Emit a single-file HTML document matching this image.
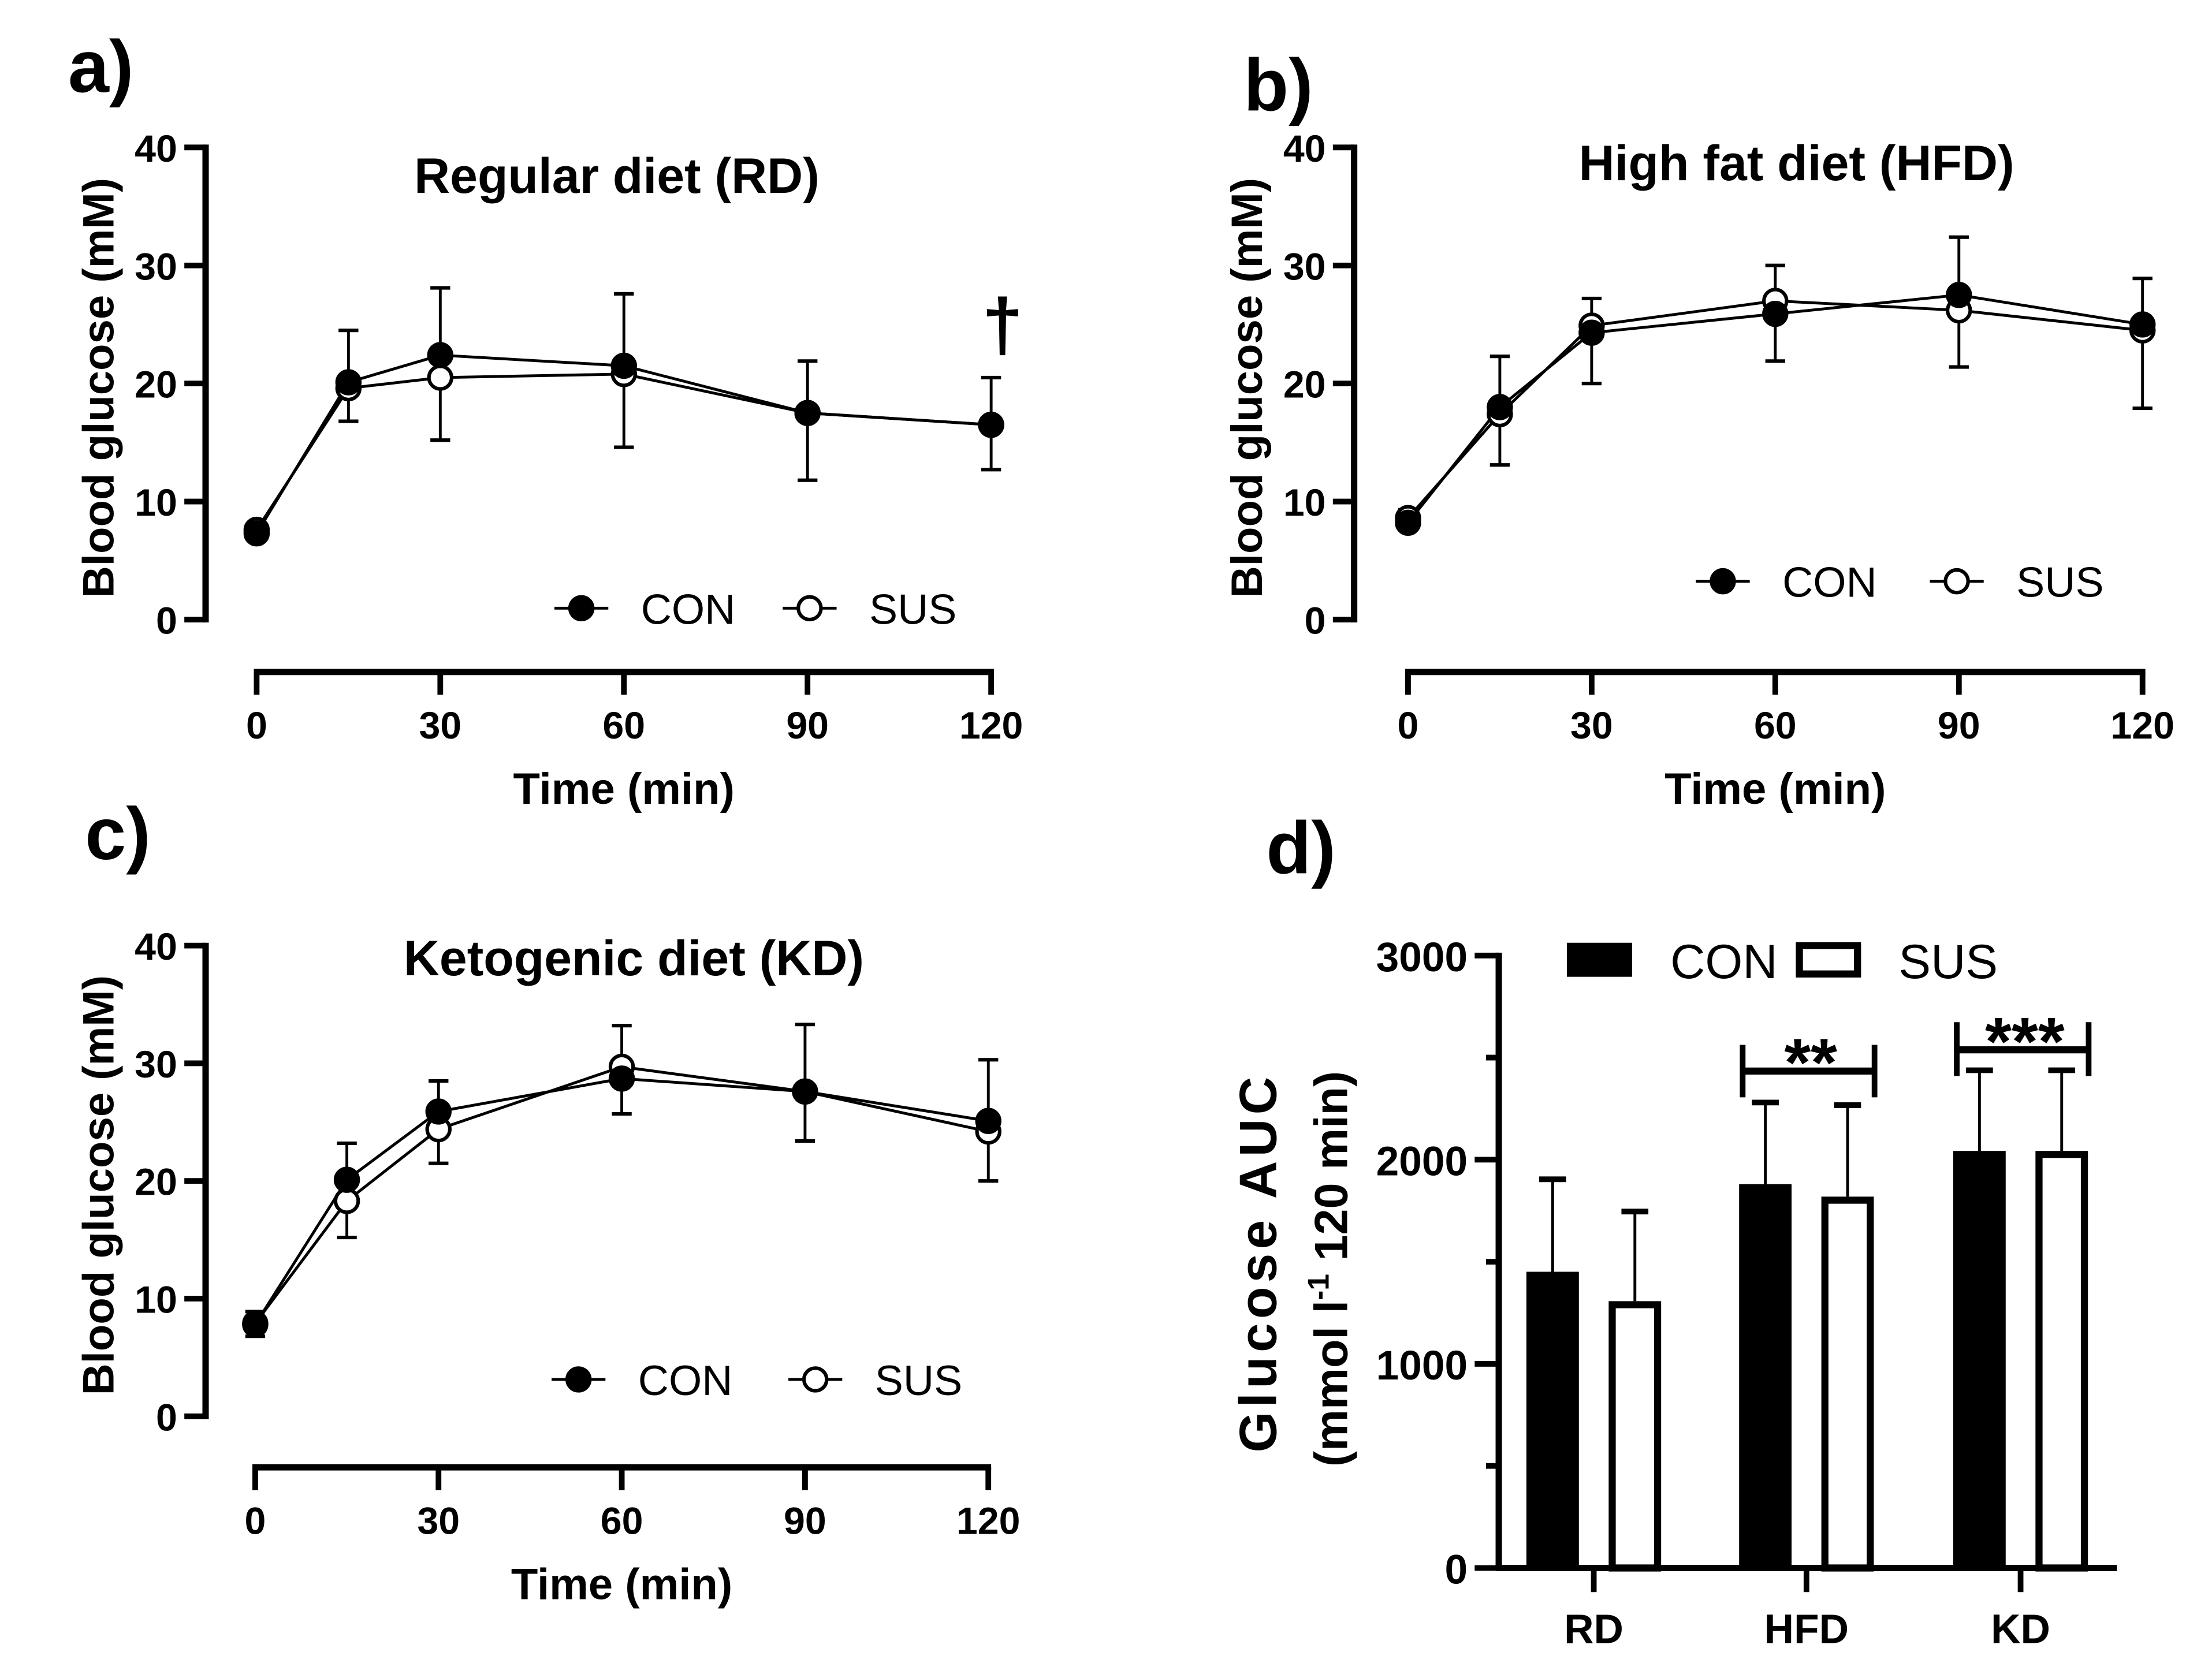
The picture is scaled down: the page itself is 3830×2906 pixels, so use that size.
<!DOCTYPE html>
<html><head><meta charset="utf-8"><style>
html,body{margin:0;padding:0;background:#fff;}
svg{display:block;}
text{font-family:"Liberation Sans",Arial,sans-serif;fill:#000;}
.b{font-weight:bold;}
</style></head><body>
<svg id="fig" width="3830" height="2906" viewBox="0 0 1560 1183.6" preserveAspectRatio="none" xmlns="http://www.w3.org/2000/svg">
<rect width="1560" height="1183.6" fill="#fff"/>
</svg>
<script>
// ---- data ----
const times = [0, 15, 30, 60, 90, 120];
const xTicks = [0, 30, 60, 90, 120];
const yTicksLine = [0, 10, 20, 30, 40];
const rdCon = [7.3, 20.1, 22.4, 21.5, 17.5, 16.5];
const rdSus = [7.6, 19.6, 20.5, 20.8, 17.5, 16.5];
const rdConErr = [0.4, 4.4, 5.7, 6.1, 4.4, 4.0];
const rdSusErr = [0.3, 2.8, 5.3, 6.2, 5.7, 3.8];
const hfdCon = [8.2, 18.0, 24.3, 25.9, 27.5, 25.0];
const hfdSus = [8.6, 17.4, 24.9, 27.0, 26.2, 24.5];
const hfdConErr = [0.3, 4.3, 4.3, 4.0, 4.9, 3.9];
const hfdSusErr = [0.7, 4.3, 2.3, 3.0, 4.8, 6.6];
const kdCon = [7.8, 20.1, 25.9, 28.7, 27.6, 25.1];
const kdSus = [7.9, 18.3, 24.4, 29.7, 27.6, 24.2];
const kdConErr = [1.0, 3.1, 2.6, 3.0, 5.7, 5.2];
const kdSusErr = [1.0, 3.1, 2.9, 3.5, 4.2, 4.2];
const aucCats = ["RD", "HFD", "KD"];
const aucCon = [1451, 1880, 2043];
const aucSus = [1307, 1819, 2043];
const aucConErr = [453, 400, 395];
const aucSusErr = [439, 448, 395];
const aucTicks = [0, 1000, 2000, 3000];
const aucMinorTicks = [500, 1500, 2500];

const NS = "http://www.w3.org/2000/svg";
const svg = document.getElementById("fig");
function mk(tag, attrs, parent, txt) {
  const e = document.createElementNS(NS, tag);
  for (const k in attrs) e.setAttribute(k, attrs[k]);
  if (txt !== undefined) e.textContent = txt;
  (parent || svg).appendChild(e);
  return e;
}
function line(x1,y1,x2,y2,w,p){return mk("line",{x1,y1,x2,y2,stroke:"#000","stroke-width":w},p);}

function linePanel(cfg) {
  const g = mk("g", {});
  
  
  const X = t => cfg.x0 + (t - 0) / 120 * (cfg.x120 - cfg.x0);
  const Y = v => cfg.y0 + v / 40 * (cfg.y40 - cfg.y0);
  const pl = mk("text", {x: cfg.lx, y: cfg.ly, "font-size": 52, class: "b"}, g, cfg.letter);
  
  
  const ya = mk("g", {}, g);
  
  
  line(cfg.ax, Y(40) - 2, cfg.ax, Y(0) + 2, 4.5, ya);
  yTicksLine.forEach(v => {
    line(cfg.ax - 15, Y(v), cfg.ax, Y(v), 4, ya);
    const t = mk("text", {x: cfg.ax - 20, y: Y(v) + 10, "font-size": 27, class: "b", "text-anchor": "end"}, ya, String(v));
    
    
  });
  const yt = mk("text", {transform: `translate(${cfg.ax - 65},${(Y(0) + Y(40)) / 2 + 3}) rotate(-90)`, "font-size": 31, class: "b", "text-anchor": "middle"}, g, "Blood glucose (mM)");
  
  
  const xa = mk("g", {}, g);
  
  
  line(X(0) - 2, cfg.xay, X(120) + 2, cfg.xay, 4.5, xa);
  xTicks.forEach(t => {
    line(X(t), cfg.xay, X(t), cfg.xay + 16, 4, xa);
    const tl = mk("text", {x: X(t), y: cfg.xay + 47, "font-size": 27, class: "b", "text-anchor": "middle"}, xa, String(t));
    
    
  });
  const xt = mk("text", {x: (X(0) + X(120)) / 2, y: cfg.xay + 93, "font-size": 31, class: "b", "text-anchor": "middle"}, g, "Time (min)");
  
  
  const tt = mk("text", {x: cfg.tx, y: cfg.ty, "font-size": 35, class: "b", "text-anchor": "middle"}, g, cfg.title);
  
  
  const eb = mk("g", {}, g);
  
  
  times.forEach((t, i) => {
    const conUp = cfg.con[i] >= cfg.sus[i];
    [[cfg.con[i], cfg.conErr[i], conUp], [cfg.sus[i], cfg.susErr[i], !conUp]].forEach(([v, e, up]) => {
      const ve = up ? v + e : v - e;
      line(X(t), Y(v), X(t), Y(ve), 2, eb);
      line(X(t) - 7, Y(ve), X(t) + 7, Y(ve), 2.5, eb);
    });
  });
  [[cfg.sus, "#fff", "sus"], [cfg.con, "#000", "con"]].forEach(([vals, fill, nm]) => {
    const s = mk("g", {}, g);
    
    
    mk("polyline", {points: times.map((t, i) => X(t) + "," + Y(vals[i])).join(" "), fill: "none", stroke: "#000", "stroke-width": 2}, s);
  });
  [[cfg.sus, "#fff", "sus"], [cfg.con, "#000", "con"]].forEach(([vals, fill, nm]) => {
    times.forEach((t, i) => {
      const c = mk("circle", {cx: X(t), cy: Y(vals[i]), r: 8, fill: fill, stroke: "#000", "stroke-width": 2.5}, g);
      
      
    });
  });
  const lg = mk("g", {}, g);
  
  
  [[cfg.legCon, "#000", "CON"], [cfg.legSus, "#fff", "SUS"]].forEach(([lx, fill, lab]) => {
    line(lx - 19, cfg.legY, lx + 19, cfg.legY, 2, lg);
    mk("circle", {cx: lx, cy: cfg.legY, r: 8, fill: fill, stroke: "#000", "stroke-width": 2.5}, lg);
    const lt = mk("text", {x: lx + 42, y: cfg.legY + 11, "font-size": 30}, lg, lab);
    
    
  });
  return {g, X, Y};
}

const pa = linePanel({name: "panel-a-rd", letter: "a)", lx: 48, ly: 65, ax: 145, y0: 437, y40: 104, x0: 181, x120: 699, xay: 474,
  tx: 435, ty: 136, title: "Regular diet (RD)", con: rdCon, sus: rdSus, conErr: rdConErr, susErr: rdSusErr, legY: 429, legCon: 410, legSus: 571});
const dag = mk("text", {x: 707, y: 247, "font-size": 52, class: "b", "text-anchor": "middle"}, pa.g, "†");



linePanel({name: "panel-b-hfd", letter: "b)", lx: 877, ly: 78, ax: 955, y0: 437, y40: 104, x0: 993, x120: 1511, xay: 474,
  tx: 1267, ty: 127, title: "High fat diet (HFD)", con: hfdCon, sus: hfdSus, conErr: hfdConErr, susErr: hfdSusErr, legY: 410, legCon: 1215, legSus: 1380});

linePanel({name: "panel-c-kd", letter: "c)", lx: 60, ly: 606, ax: 145, y0: 999, y40: 667, x0: 180, x120: 697, xay: 1035,
  tx: 447, ty: 688, title: "Ketogenic diet (KD)", con: kdCon, sus: kdSus, conErr: kdConErr, susErr: kdSusErr, legY: 973, legCon: 408, legSus: 575});

(function(){
  const g = mk("g", {});
  
  
  const ax = 1057, y0 = 1106, y3000 = 674;
  const Y = v => y0 + v / 3000 * (y3000 - y0);
  const catX = [1124, 1274, 1425];
  const off = 29, bw = 37;
  const pl = mk("text", {x: 893, y: 616, "font-size": 52, class: "b"}, g, "d)");
  
  
  const ya = mk("g", {}, g);
  
  
  line(ax, Y(3000) - 2, ax, y0 + 2, 4.5, ya);
  aucTicks.forEach(v => {
    line(ax - 17, Y(v), ax, Y(v), 4, ya);
    const t = mk("text", {x: ax - 22, y: Y(v) + 11, "font-size": 29, class: "b", "text-anchor": "end"}, ya, String(v));
    
    
  });
  aucMinorTicks.forEach(v => line(ax - 9, Y(v), ax, Y(v), 4, ya));
  const t1 = mk("text", {transform: `translate(900,${(Y(0)+Y(3000))/2 + 2}) rotate(-90)`, "font-size": 37, class: "b", "text-anchor": "middle", textLength: 265, lengthAdjust: "spacing"}, g, "Glucose AUC");
  
  
  const t2 = mk("text", {transform: `translate(950,${(Y(0)+Y(3000))/2 + 5}) rotate(-90)`, "font-size": 33, class: "b", "text-anchor": "middle"}, g);
  
  
  mk("tspan", {}, t2, "(mmol l");
  mk("tspan", {"font-size": 21, dy: -13}, t2, "-1");
  mk("tspan", {dy: 13}, t2, " 120 min)");
  const xa = mk("g", {}, g);
  
  
  line(ax - 2, y0, 1493, y0, 4.5, xa);
  aucCats.forEach((c, i) => {
    line(catX[i], y0, catX[i], y0 + 17, 4, xa);
    const t = mk("text", {x: catX[i], y: y0 + 53, "font-size": 29, class: "b", "text-anchor": "middle"}, xa, c);
    
    
  });
  aucCats.forEach((c, i) => {
    [[aucCon[i], aucConErr[i], -off, true, "con"], [aucSus[i], aucSusErr[i], off, false, "sus"]].forEach(([v, e, o, filled, nm]) => {
      const cx = catX[i] + o;
      line(cx, Y(v), cx, Y(v + e), 2, g);
      line(cx - 9.5, Y(v + e), cx + 9.5, Y(v + e), 4, g);
      let r;
      if (filled) r = mk("rect", {x: cx - bw/2, y: Y(v), width: bw, height: y0 - Y(v), fill: "#000"}, g);
      else r = mk("rect", {x: cx - bw/2 + 2.5, y: Y(v) + 2.5, width: bw - 5, height: y0 - Y(v) - 2.5, fill: "#fff", stroke: "#000", "stroke-width": 5}, g);
      
      
    });
  });
  [[1, 755.5, 737, 774, "**", 766], [2, 740.5, 721, 759, "***", 751]].forEach(([i, hy, t, b, s, sy]) => {
    const sg = mk("g", {}, g);
    
    
    const l = catX[i] - 45, r = catX[i] + 48;
    line(l, hy, r, hy, 5, sg);
    line(l, t, l, b, 4, sg);
    line(r, t, r, b, 4, sg);
    mk("text", {x: catX[i] + 3, y: sy, "font-size": 48, class: "b", "text-anchor": "middle"}, sg, s);
  });
  const lg = mk("g", {}, g);
  
  
  mk("rect", {x: 1105, y: 665, width: 46, height: 24, fill: "#000"}, lg);
  const lc = mk("text", {x: 1178, y: 690, "font-size": 34}, lg, "CON");
  
  
  mk("rect", {x: 1269, y: 667, width: 41, height: 20, fill: "#fff", stroke: "#000", "stroke-width": 5}, lg);
  const ls = mk("text", {x: 1339, y: 690, "font-size": 34}, lg, "SUS");
  
  
})();
</script>
</body></html>
